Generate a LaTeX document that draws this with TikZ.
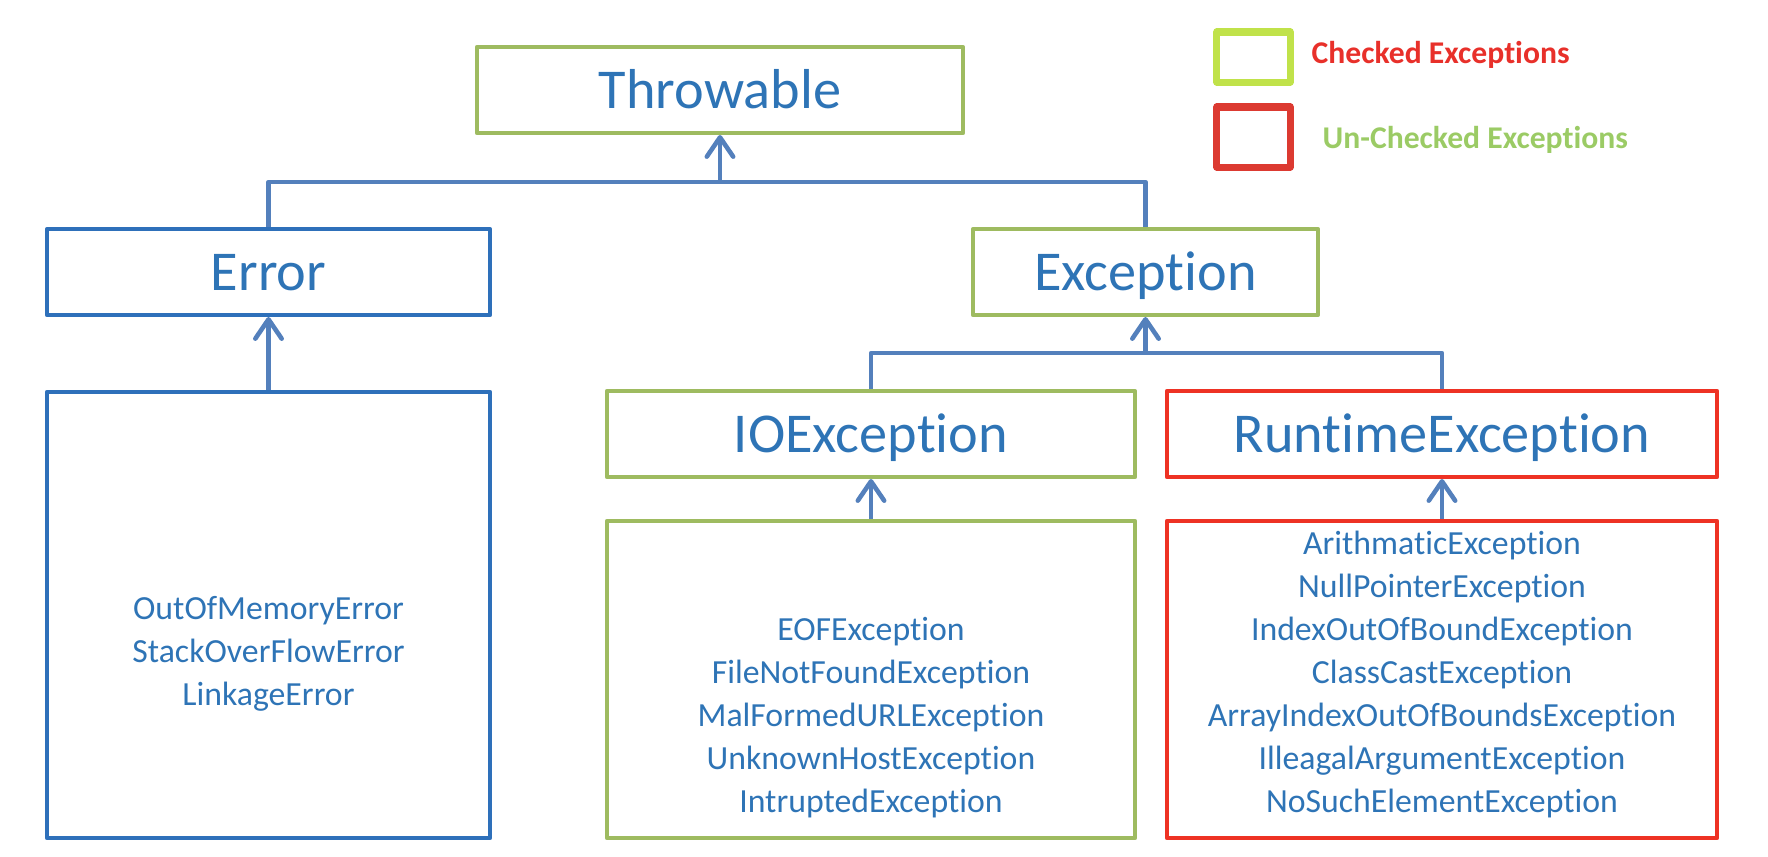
\documentclass[tikz,border=0pt]{standalone}
\usepackage{fontspec}
\setmainfont{Carlito}[Ligatures={NoCommon,NoContextual}]
\usepackage{xcolor}
\usepackage{tikz}
\usetikzlibrary{arrows.meta, positioning}

\definecolor{textblue}{RGB}{46,116,182}
\definecolor{boxblue}{RGB}{46,112,186}
\definecolor{linkblue}{RGB}{84,128,188}
\definecolor{boxgreen}{RGB}{158,187,96}
\definecolor{boxred}{RGB}{238,50,36}
\definecolor{keygreen}{RGB}{192,226,74}
\definecolor{keyred}{RGB}{220,58,49}
\definecolor{checkedred}{RGB}{232,48,42}
\definecolor{uncheckedgreen}{RGB}{155,203,101}

\begin{document}
\begin{tikzpicture}[x=0.01cm, y=-0.01cm, line join=round,
  link/.style={draw=linkblue, line width=1.3pt},
  uplink/.style={link, -{Straight Barb[length=5.5pt, width=7.5pt, round]}},
  classbox/.style={draw, rectangle, line width=1.13pt, inner sep=0pt, text=textblue,
    font=\fontsize{16}{19}\selectfont, text height=10.3pt, text depth=0pt, minimum height=0.86cm},
  listbox/.style={draw, rectangle, line width=1.13pt, inner sep=0pt},
  item/.style={anchor=base, inner sep=0pt, text=textblue, font=\fontsize{9.6}{11.7}\selectfont},
  swatch/.style={draw, rectangle, line width=2pt, inner sep=0pt, minimum width=0.73cm},
  legend/.style={anchor=base west, inner sep=0pt, font=\fontsize{9}{11}\selectfont\bfseries}]

  \useasboundingbox (0,0) rectangle (1768,856);

  % class boxes
  \node[classbox, draw=boxgreen, minimum width=4.86cm] (throwable) at (720,90) {Throwable};
  \node[classbox, draw=boxblue, minimum width=4.43cm] (error) at (268.5,272) {Error};
  \node[classbox, draw=boxgreen, minimum width=3.45cm] (exception) at (1145.5,272) {Exception};
  \node[classbox, draw=boxgreen, minimum width=5.28cm] (ioexc) at (871,434) {IOException};
  \node[classbox, draw=boxred, minimum width=5.50cm] (rtexc) at (1442,434) {RuntimeException};

  % subclass lists
  \node[listbox, draw=boxblue, minimum width=4.43cm, minimum height=4.46cm] (errlist) at (268.5,615) {};
  \node[listbox, draw=boxgreen, minimum width=5.28cm, minimum height=3.17cm] (iolist) at (871,679.5) {};
  \node[listbox, draw=boxred, minimum width=5.50cm, minimum height=3.17cm] (rtlist) at (1442,679.5) {};

  \foreach \name [count=\i] in {OutOfMemoryError, StackOverFlowError, LinkageError}
    \node[item] (err\i) at (268.5,{576+43*\i}) {\name};
  \foreach \name [count=\i] in {EOFException, FileNotFoundException, MalFormedURLException,
      UnknownHostException, IntruptedException}
    \node[item] (io\i) at (871,{597+43*\i}) {\name};
  \foreach \name [count=\i] in {ArithmaticException, NullPointerException, IndexOutOfBoundException,
      ClassCastException, ArrayIndexOutOfBoundsException, IlleagalArgumentException, NoSuchElementException}
    \node[item] (rt\i) at (1442,{511+43*\i}) {\name};

  % connectors
  \coordinate (topjoin) at (720,182);
  \coordinate (excjoin) at (1145.5,353);
  \draw[link] (error.north) |- (topjoin) -| (exception.north);
  \draw[uplink] (topjoin) -- (throwable.south);
  \draw[link] (ioexc.north) |- (excjoin) -| (rtexc.north);
  \draw[uplink] (excjoin) -- (exception.south);
  \draw[uplink] (errlist.north) -- (error.south);
  \draw[uplink] (iolist.north) -- (ioexc.south);
  \draw[uplink] (rtlist.north) -- (rtexc.south);

  % legend
  \node[swatch, draw=keygreen, minimum height=0.50cm] (keychecked) at (1253.5,57) {};
  \node[swatch, draw=keyred, minimum height=0.60cm] (keyunchecked) at (1253.5,137) {};
  \node[legend, text=checkedred] (checkedlbl) at (1311,63) {Checked Exceptions};
  \node[legend, text=uncheckedgreen] (uncheckedlbl) at (1322,148) {Un-Checked Exceptions};
\end{tikzpicture}
\end{document}
